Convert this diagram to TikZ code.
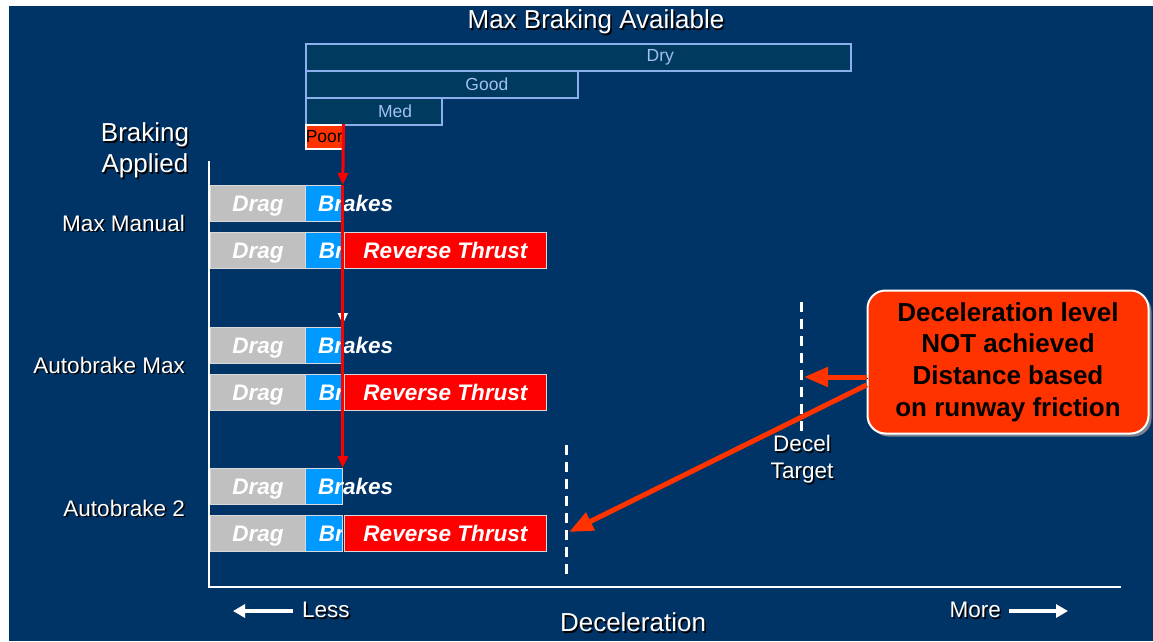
\documentclass[tikz,border=0pt]{standalone}
\usepackage{fontspec}
\setmainfont{Liberation Sans}
\usetikzlibrary{arrows.meta, shadows, calc}

\definecolor{slide}{RGB}{0,51,102}
\definecolor{barfill}{RGB}{0,58,94}
\definecolor{barline}{RGB}{140,176,238}
\definecolor{bartext}{RGB}{160,192,240}
\definecolor{hotred}{RGB}{255,51,0}
\definecolor{dragfill}{RGB}{192,192,192}
\definecolor{brakefill}{RGB}{0,153,255}

\newcommand{\txtshadow}[1]{\leavevmode\rlap{\kern1.6pt\raisebox{-1.6pt}{\color{black}#1}}#1}

\begin{document}
\begin{tikzpicture}[x = 1pt, y = -1pt,
        slidetext/.style = {text = white, font = \fontsize{26}{31}\selectfont, inner sep = 0.3em},
        smalltext/.style = {text = white, font = \fontsize{22.5}{27}\selectfont, inner sep = 0.3em},
        surfbar/.style = {draw = barline, fill = barfill, line width = 1.5pt, anchor = north west, minimum height = 27pt, inner sep = 0pt},
        surftext/.style = {text = bartext, font = \fontsize{17.5}{20}\selectfont},
        boxfont/.style = {text = white, font = \fontsize{22.5}{27}\selectfont\bfseries\itshape, text height = 16pt, text depth = 0pt},
        dragbox/.style = {boxfont, draw = white!85!black, line width = 0.8pt, fill = dragfill, anchor = north west, minimum width = 95pt, minimum height = 36pt, inner sep = 0pt},
        brakebox/.style = {dragbox, fill = brakefill, minimum width = 37pt},
        brakelabel/.style = {boxfont, anchor = west, inner xsep = 13pt, inner ysep = 0pt},
        brakeclip/.style = {path picture = {\node[brakelabel] at (path picture bounding box.west) {Brakes};}},
        thrustbox/.style = {dragbox, fill = red, minimum width = 202pt},
        redline/.style = {draw = red, line width = 3pt, -{Triangle[length = 12pt, width = 10pt]}},
        notearrow/.style = {draw = hotred, line width = 5pt, -{Triangle[length = 24pt, width = 19pt]}, preaction = {draw = black, transform canvas = {shift = {(1.5pt,-1.5pt)}}}},
        decelmark/.style = {draw = white, line width = 3pt, dash pattern = on 10pt off 7pt},
        sidearrow/.style = {draw = white, line width = 4pt, -{Triangle[length = 12pt, width = 13pt]}},
        callout/.style = {draw = white, line width = 2pt, fill = hotred, rounded corners = 18pt, minimum width = 281pt, minimum height = 143pt, align = center, font = \fontsize{26}{31.7}\selectfont\bfseries, drop shadow = {fill = gray!80, opacity = 0.8, shadow xshift = 3pt, shadow yshift = -3pt}}
    ]
        \useasboundingbox (0,0) rectangle (1153,641);
        \fill[slide] (9,6) rectangle (1153,641);

        \node[slidetext] (title) at (596,23) {\txtshadow{Max Braking Available}};
        \node[slidetext, align = center] (applied) at (145,151) {\txtshadow{Braking}\\\txtshadow{Applied}};

        \node[surfbar, minimum width = 545pt] (dry) at (305,43) {};
        \node[surfbar, minimum width = 272pt] (good) at (305,70) {};
        \node[surfbar, minimum width = 136pt] (med) at (305,97) {};
        \node[surfbar, draw = white, fill = hotred, minimum width = 37pt, minimum height = 24pt] (poor) at (305,124) {};
        \node[surftext] at ($(dry.west)!0.65!(dry.east)$) {Dry};
        \node[surftext] at ($(good.west)!0.665!(good.east)$) {Good};
        \node[surftext] at ($(med.west)!0.655!(med.east)$) {Med};
        \node[surftext, text = black, inner sep = 0pt] at (poor.center) {Poor};

        \draw[white, line width = 2pt] (209,161) -- (209,587) -- (1121,587);

        \foreach \r/\y in {1/185, 2/327, 3/468} {
            \node[dragbox] (dA\r) at (210,\y) {Drag};
            \node[brakebox] (bA\r) at (305,\y) {};
            \node[brakelabel] (brA\r) at (bA\r.west) {Brakes};
            \node[dragbox] (dB\r) at (210,\y+47) {Drag};
            \node[brakebox, brakeclip] (bB\r) at (305,\y+47) {};
            \node[thrustbox] (tB\r) at (344,\y+47) {Reverse Thrust};
        }

        \node[smalltext, anchor = east] (manual) at (188,224) {\txtshadow{Max Manual}};
        \node[smalltext, anchor = east] (abmax) at (188,366) {\txtshadow{Autobrake Max}};
        \node[smalltext, anchor = east] (abtwo) at (188,509) {\txtshadow{Autobrake 2}};

        \draw[white, line width = 1.5pt, -{Triangle[length = 11pt, width = 10pt]}, shorten > = 3pt] (bB1.south east) -- (bA2.north east);
        \draw[redline] (poor.north east) -- (bA1.north east);
        \draw[redline] (bA1.north east) -- (bA3.north east);

        \draw[decelmark] (566,445) -- (566,578);
        \draw[decelmark] (801,302) -- (801,435);
        \node[smalltext, align = center] (target label) at (802,460) {\txtshadow{Decel}\\\txtshadow{Target}};

        \node[callout] (note) at (1008,362) {Deceleration level\\NOT achieved\\Distance based\\on runway friction};
        \coordinate (target) at (804,377);
        \coordinate (auto2) at (569,532);
        \draw[notearrow] (note.west |- target) -- (target);
        \draw[notearrow] ($(note.west)+(0,23)$) -- (auto2);

        \node[smalltext, anchor = west, inner xsep = 9pt] (less) at (293,611) {\txtshadow{Less}};
        \node[smalltext, anchor = east, inner xsep = 8pt] (more) at (1009,611) {\txtshadow{More}};
        \node[slidetext] (decel) at (633,623) {\txtshadow{Deceleration}};
        \coordinate (lessend) at (233,611);
        \coordinate (moreend) at (1068,611);
        \draw[sidearrow] (less.west) -- (lessend);
        \draw[sidearrow] (more.east) -- (moreend);
    \end{tikzpicture}
\end{document}
